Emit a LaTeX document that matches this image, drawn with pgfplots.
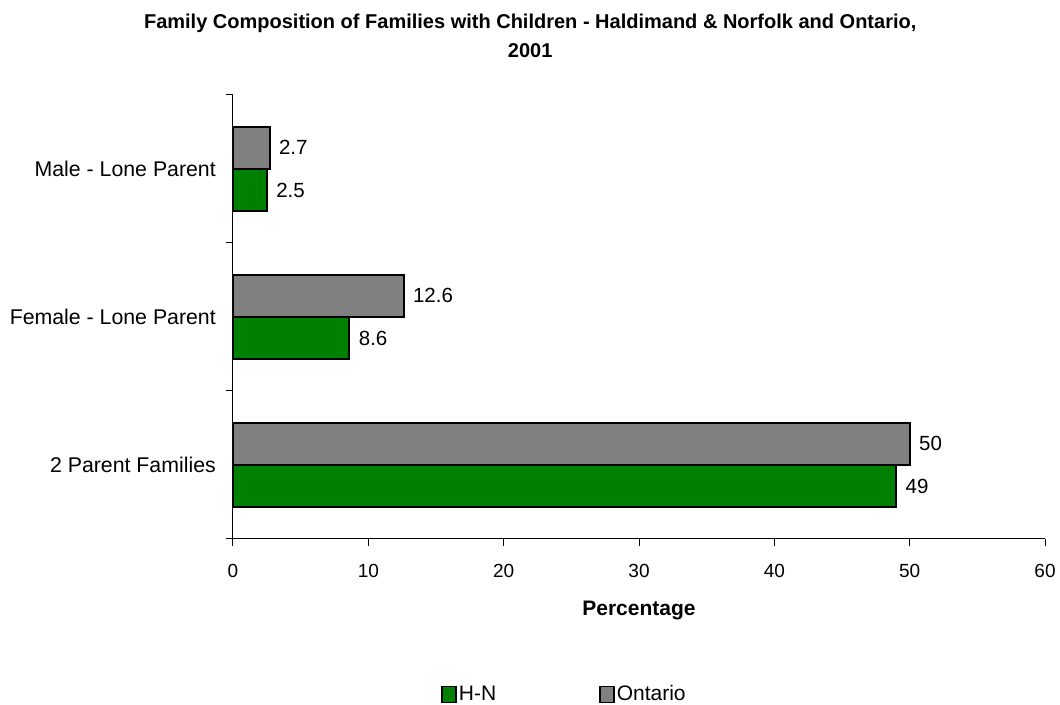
\documentclass[border=0pt]{standalone}
\usepackage{fontspec}
\setmainfont{Liberation Sans}
\usepackage{pgfplots}
\pgfplotsset{compat=1.18}
\definecolor{hngreen}{RGB}{0,128,0}
\definecolor{ongrey}{RGB}{128,128,128}
\begin{document}
\fontsize{21}{25}\selectfont
\begin{tikzpicture}
\useasboundingbox (0,0) rectangle (1060pt,704pt);
\begin{axis}[
  at={(233pt,165pt)}, anchor=south west,
  scale only axis, width=812pt, height=444pt,
  xbar, bar width=0.287,
  xmin=0, xmax=60, ymin=-0.5, ymax=2.5,
  axis x line*=bottom, axis y line*=left,
  axis line style={-, line width=1pt, black},
  tick align=outside, major tick length=7pt,
  tick style={black, line width=1pt},
  xtick={0,10,...,60},
  ytick={-0.5,0.5,1.5,2.5}, yticklabels={},
  extra y ticks={0,1,2},
  extra y tick labels={2 Parent Families, Female - Lone Parent, Male - Lone Parent},
  extra y tick style={major tick length=0pt},
  yticklabel shift=10pt,
  xticklabel shift=11pt,
  /pgf/number format/assume math mode=true,
  xticklabel style={font=\fontsize{19}{23}\selectfont},
  yticklabel style={font=\fontsize{21.3}{25}\selectfont},
  xlabel={Percentage},
  xlabel style={at={(axis description cs:0.5,-0.160)}, anchor=center, font=\fontsize{21}{25}\selectfont\bfseries},
  title={Family Composition of Families with Children - Haldimand \& Norfolk and Ontario,\\2001},
  title style={at={(axis description cs:0.366,1.120)}, anchor=center, align=center, font=\fontsize{20}{28.5}\selectfont\bfseries},
  point meta=x,
  nodes near coords,
  nodes near coords style={font=\fontsize{20.5}{24}\selectfont, black, xshift=1.5pt},
  every axis plot/.append style={draw=black, line width=2pt},
  legend style={draw=none, fill=none, at={(axis description cs:0.2528,-0.350)}, anchor=west,
    legend columns=2, font=\fontsize{21}{25}\selectfont,
    nodes={inner ysep=1pt},
    /tikz/every even column/.append style={column sep=101pt}},
  legend image code/.code={\draw[#1, line width=1.5pt] (-5pt,-8pt) rectangle (9pt,8pt);},
]
\addplot[fill=hngreen, bar shift=-0.1435] coordinates {(49,0) (8.6,1) (2.5,2)};
\addplot[fill=ongrey, bar shift=0.1435] coordinates {(50,0) (12.6,1) (2.7,2)};
\legend{H-N, Ontario}
\end{axis}
\end{tikzpicture}
\end{document}
